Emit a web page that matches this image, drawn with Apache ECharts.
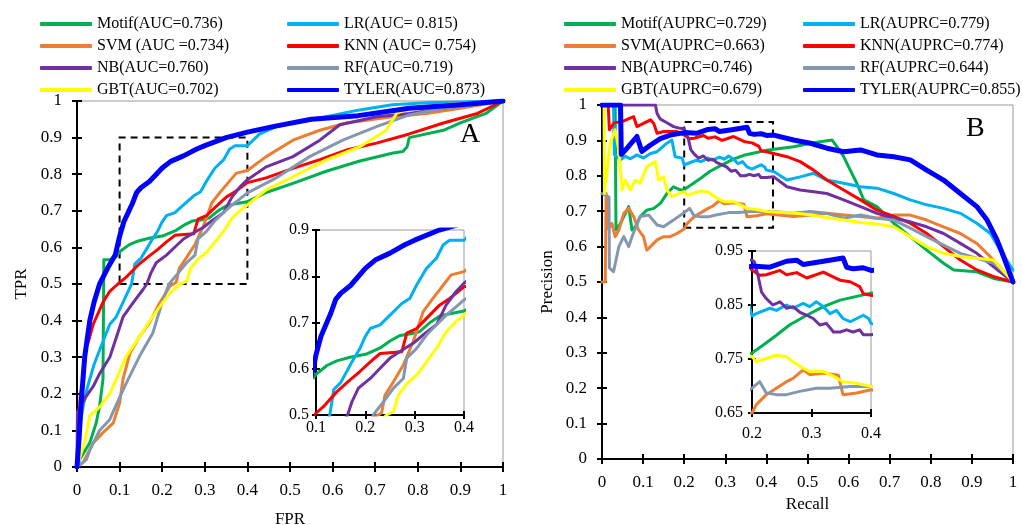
<!DOCTYPE html>
<html><head><meta charset="utf-8">
<script src="https://cdn.jsdelivr.net/npm/echarts@6/dist/echarts.min.js"></script>
<style>html,body{margin:0;padding:0;background:#fff}#c{width:1022px;height:525px}</style>
</head><body><div id="c"></div>
<script>
// ---------- DATA ----------
const rocNames = ['Motif(AUC=0.736)','LR(AUC= 0.815)','SVM (AUC =0.734)','KNN (AUC= 0.754)','NB(AUC=0.760)','RF(AUC=0.719)','GBT(AUC=0.702)','TYLER(AUC=0.873)'];
const prNames  = ['Motif(AUPRC=0.729)','LR(AUPRC=0.779)','SVM(AUPRC=0.663)','KNN(AUPRC=0.774)','NB(AUPRC=0.746)','RF(AUPRC=0.644)','GBT(AUPRC=0.679)','TYLER(AUPRC=0.855)'];
const axisTicks01 = [0,0.1,0.2,0.3,0.4,0.5,0.6,0.7,0.8,0.9,1];
const zoomBoxA = [0.1,0.4,0.5,0.9];   // FPR from,to ; TPR from,to
const zoomBoxB = [0.2,0.416,0.653,0.952];
const insetA = {x:[0.1,0.4], y:[0.5,0.9]};
const insetB = {x:[0.2,0.4], y:[0.65,0.95]};

const rocMotif = [[0,0],[0.006,0.02],[0.03,0.066],[0.045,0.12],[0.053,0.166],[0.061,0.24],[0.062,0.40],[0.063,0.566],[0.077,0.566],[0.092,0.575],[0.1,0.588],[0.122,0.607],[0.142,0.617],[0.169,0.625],[0.203,0.632],[0.23,0.645],[0.25,0.66],[0.27,0.672],[0.29,0.675],[0.31,0.68],[0.331,0.70],[0.351,0.714],[0.371,0.719],[0.4,0.725],[0.444,0.75],[0.507,0.775],[0.585,0.808],[0.664,0.836],[0.742,0.858],[0.765,0.862],[0.775,0.875],[0.78,0.9],[0.86,0.92],[0.9,0.94],[0.96,0.966],[1,1]];
const rocLR = [[0,0],[0.005,0.1],[0.015,0.17],[0.025,0.22],[0.04,0.28],[0.06,0.34],[0.077,0.39],[0.092,0.41],[0.108,0.45],[0.12,0.48],[0.128,0.5],[0.136,0.555],[0.15,0.57],[0.173,0.615],[0.189,0.644],[0.2,0.67],[0.21,0.687],[0.23,0.695],[0.25,0.716],[0.274,0.741],[0.29,0.752],[0.304,0.781],[0.324,0.817],[0.344,0.839],[0.358,0.868],[0.371,0.878],[0.4,0.878],[0.429,0.91],[0.468,0.93],[0.507,0.94],[0.585,0.957],[0.66,0.975],[0.74,0.99],[0.82,0.995],[1,1]];
const rocSVM = [[0,0],[0.014,0.012],[0.038,0.066],[0.061,0.094],[0.085,0.12],[0.1,0.175],[0.108,0.24],[0.124,0.31],[0.147,0.357],[0.17,0.394],[0.194,0.448],[0.218,0.494],[0.233,0.505],[0.24,0.543],[0.257,0.572],[0.277,0.608],[0.297,0.659],[0.317,0.723],[0.337,0.752],[0.358,0.781],[0.374,0.803],[0.4,0.81],[0.444,0.848],[0.507,0.893],[0.57,0.92],[0.632,0.94],[0.74,0.957],[0.82,0.966],[0.9,0.98],[1,1]];
const rocKNN = [[0,0],[0.004,0.1],[0.008,0.2],[0.015,0.23],[0.02,0.33],[0.026,0.34],[0.038,0.39],[0.061,0.45],[0.077,0.48],[0.096,0.5],[0.115,0.518],[0.142,0.55],[0.169,0.576],[0.189,0.594],[0.21,0.615],[0.23,0.633],[0.274,0.637],[0.284,0.677],[0.304,0.687],[0.324,0.709],[0.351,0.738],[0.371,0.752],[0.4,0.777],[0.444,0.79],[0.507,0.816],[0.57,0.84],[0.632,0.866],[0.703,0.885],[0.78,0.91],[0.86,0.94],[0.94,0.966],[1,1]];
const rocNB = [[0,0],[0.001,0.15],[0.02,0.19],[0.038,0.22],[0.054,0.257],[0.077,0.30],[0.094,0.36],[0.108,0.41],[0.131,0.448],[0.155,0.485],[0.164,0.5],[0.173,0.529],[0.186,0.558],[0.21,0.579],[0.23,0.601],[0.25,0.623],[0.274,0.64],[0.297,0.655],[0.317,0.673],[0.344,0.695],[0.364,0.738],[0.384,0.767],[0.4,0.785],[0.444,0.82],[0.507,0.848],[0.57,0.893],[0.617,0.935],[0.703,0.957],[0.78,0.966],[0.86,0.98],[1,1]];
const rocRF = [[0,0],[0.022,0.02],[0.03,0.046],[0.053,0.1],[0.077,0.13],[0.1,0.19],[0.116,0.23],[0.147,0.303],[0.178,0.366],[0.2,0.45],[0.216,0.5],[0.237,0.529],[0.257,0.558],[0.277,0.579],[0.284,0.623],[0.304,0.644],[0.324,0.673],[0.344,0.695],[0.364,0.716],[0.384,0.734],[0.4,0.749],[0.468,0.79],[0.546,0.848],[0.624,0.893],[0.703,0.93],[0.78,0.962],[0.86,0.98],[1,1]];
const rocGBT = [[0,0],[0.019,0.074],[0.03,0.14],[0.054,0.165],[0.077,0.2],[0.092,0.24],[0.116,0.303],[0.147,0.357],[0.178,0.412],[0.218,0.475],[0.243,0.5],[0.257,0.507],[0.267,0.543],[0.284,0.568],[0.304,0.586],[0.324,0.615],[0.344,0.644],[0.364,0.68],[0.384,0.702],[0.4,0.716],[0.444,0.757],[0.507,0.793],[0.585,0.839],[0.664,0.875],[0.726,0.92],[0.75,0.966],[0.78,0.98],[0.86,0.99],[1,1]];
const rocTYLER = [[0,0],[0.005,0.08],[0.01,0.18],[0.018,0.3],[0.03,0.4],[0.04,0.45],[0.053,0.5],[0.075,0.55],[0.09,0.58],[0.1,0.63],[0.11,0.67],[0.12,0.695],[0.13,0.72],[0.14,0.75],[0.15,0.763],[0.17,0.78],[0.2,0.817],[0.22,0.835],[0.25,0.85],[0.28,0.868],[0.3,0.878],[0.35,0.9],[0.4,0.915],[0.46,0.93],[0.55,0.95],[0.66,0.96],[0.78,0.98],[0.9,0.99],[1,1]];

const prMotif = [[0,1],[0.032,1],[0.034,0.647],[0.045,0.666],[0.057,0.694],[0.065,0.713],[0.073,0.647],[0.081,0.656],[0.093,0.685],[0.109,0.703],[0.126,0.708],[0.142,0.722],[0.158,0.75],[0.174,0.769],[0.19,0.76],[0.2,0.761],[0.219,0.776],[0.241,0.794],[0.263,0.813],[0.292,0.831],[0.32,0.847],[0.348,0.859],[0.376,0.866],[0.4,0.872],[0.466,0.882],[0.507,0.892],[0.56,0.901],[0.572,0.882],[0.588,0.854],[0.604,0.816],[0.62,0.779],[0.637,0.732],[0.669,0.713],[0.71,0.666],[0.75,0.628],[0.79,0.59],[0.831,0.553],[0.856,0.534],[0.912,0.529],[0.953,0.51],[1,0.5]];
const prLR = [[0,1],[0.028,1],[0.03,0.86],[0.045,0.845],[0.057,0.855],[0.069,0.848],[0.085,0.859],[0.101,0.85],[0.118,0.863],[0.134,0.868],[0.158,0.892],[0.17,0.901],[0.178,0.854],[0.195,0.85],[0.2,0.83],[0.207,0.834],[0.23,0.844],[0.241,0.84],[0.258,0.85],[0.269,0.844],[0.286,0.853],[0.297,0.847],[0.308,0.856],[0.32,0.847],[0.331,0.834],[0.342,0.84],[0.353,0.825],[0.365,0.819],[0.376,0.825],[0.387,0.831],[0.396,0.825],[0.4,0.816],[0.418,0.812],[0.45,0.788],[0.482,0.797],[0.515,0.807],[0.547,0.788],[0.588,0.779],[0.629,0.769],[0.669,0.765],[0.71,0.75],[0.75,0.732],[0.79,0.718],[0.831,0.708],[0.872,0.694],[0.912,0.666],[0.945,0.637],[0.969,0.59],[1,0.534]];
const prSVM = [[0,0.5],[0.008,0.5],[0.01,0.75],[0.016,0.65],[0.024,0.666],[0.032,0.628],[0.041,0.647],[0.053,0.694],[0.065,0.708],[0.077,0.685],[0.089,0.647],[0.101,0.628],[0.109,0.59],[0.118,0.6],[0.134,0.619],[0.15,0.628],[0.166,0.628],[0.182,0.637],[0.2,0.65],[0.207,0.665],[0.224,0.684],[0.241,0.696],[0.258,0.708],[0.269,0.714],[0.286,0.73],[0.297,0.721],[0.32,0.724],[0.345,0.72],[0.353,0.684],[0.376,0.687],[0.4,0.693],[0.466,0.685],[0.507,0.689],[0.547,0.694],[0.588,0.689],[0.629,0.685],[0.669,0.68],[0.71,0.689],[0.75,0.689],[0.79,0.675],[0.831,0.656],[0.872,0.637],[0.912,0.609],[0.953,0.562],[1,0.5]];
const prKNN = [[0,1],[0.015,1],[0.018,0.93],[0.03,0.95],[0.049,0.953],[0.077,0.967],[0.085,0.939],[0.118,0.958],[0.126,0.948],[0.134,0.92],[0.15,0.925],[0.182,0.925],[0.2,0.915],[0.213,0.905],[0.224,0.906],[0.247,0.914],[0.258,0.906],[0.275,0.91],[0.292,0.9],[0.32,0.911],[0.331,0.905],[0.348,0.896],[0.365,0.893],[0.381,0.884],[0.387,0.871],[0.4,0.868],[0.45,0.854],[0.482,0.84],[0.515,0.816],[0.547,0.788],[0.588,0.76],[0.629,0.732],[0.669,0.703],[0.71,0.685],[0.75,0.666],[0.79,0.637],[0.831,0.6],[0.872,0.562],[0.912,0.534],[0.953,0.515],[1,0.5]];
const prNB = [[0,1],[0.13,1],[0.134,0.976],[0.142,0.96],[0.158,0.95],[0.174,0.939],[0.19,0.934],[0.2,0.933],[0.204,0.93],[0.21,0.905],[0.216,0.874],[0.224,0.862],[0.235,0.85],[0.247,0.856],[0.258,0.844],[0.269,0.847],[0.28,0.837],[0.292,0.831],[0.303,0.825],[0.314,0.813],[0.325,0.816],[0.337,0.8],[0.348,0.8],[0.359,0.804],[0.37,0.8],[0.381,0.804],[0.387,0.795],[0.4,0.795],[0.418,0.797],[0.45,0.769],[0.482,0.76],[0.515,0.755],[0.547,0.75],[0.588,0.732],[0.629,0.713],[0.669,0.694],[0.71,0.68],[0.75,0.67],[0.79,0.656],[0.831,0.637],[0.872,0.609],[0.912,0.581],[0.953,0.543],[1,0.5]];
const prRF = [[0,0.75],[0.017,0.74],[0.018,0.54],[0.028,0.529],[0.041,0.6],[0.053,0.628],[0.065,0.6],[0.073,0.628],[0.093,0.685],[0.114,0.689],[0.134,0.661],[0.15,0.656],[0.174,0.675],[0.2,0.696],[0.213,0.708],[0.224,0.687],[0.241,0.684],[0.258,0.684],[0.28,0.69],[0.308,0.696],[0.331,0.696],[0.365,0.699],[0.381,0.699],[0.418,0.699],[0.466,0.694],[0.507,0.699],[0.547,0.694],[0.588,0.68],[0.629,0.689],[0.669,0.68],[0.71,0.675],[0.75,0.652],[0.79,0.628],[0.831,0.604],[0.872,0.581],[0.912,0.567],[0.953,0.553],[1,0.505]];
const prGBT = [[0,1],[0.005,1],[0.006,0.75],[0.02,0.892],[0.032,0.93],[0.041,0.873],[0.049,0.76],[0.057,0.788],[0.069,0.76],[0.081,0.788],[0.093,0.779],[0.109,0.826],[0.13,0.84],[0.138,0.788],[0.15,0.797],[0.158,0.76],[0.17,0.741],[0.186,0.75],[0.2,0.755],[0.207,0.745],[0.224,0.751],[0.241,0.757],[0.258,0.754],[0.269,0.745],[0.286,0.733],[0.297,0.727],[0.32,0.727],[0.337,0.718],[0.353,0.708],[0.376,0.705],[0.4,0.699],[0.466,0.695],[0.507,0.69],[0.547,0.682],[0.588,0.675],[0.629,0.668],[0.669,0.664],[0.71,0.656],[0.75,0.628],[0.79,0.6],[0.831,0.581],[0.872,0.572],[0.912,0.567],[0.953,0.562],[1,0.5]];
const prTYLER = [[0,1],[0.045,1],[0.047,0.86],[0.061,0.878],[0.085,0.911],[0.097,0.869],[0.118,0.887],[0.142,0.905],[0.166,0.915],[0.2,0.922],[0.23,0.92],[0.258,0.931],[0.275,0.933],[0.286,0.925],[0.32,0.931],[0.353,0.937],[0.359,0.92],[0.37,0.917],[0.387,0.919],[0.4,0.914],[0.418,0.915],[0.466,0.901],[0.507,0.892],[0.547,0.878],[0.588,0.868],[0.629,0.873],[0.669,0.859],[0.71,0.854],[0.75,0.845],[0.79,0.816],[0.831,0.788],[0.872,0.75],[0.912,0.713],[0.937,0.675],[0.961,0.619],[0.977,0.572],[1,0.5]];

const rocData = [rocMotif,rocLR,rocSVM,rocKNN,rocNB,rocRF,rocGBT,rocTYLER];
const prData  = [prMotif,prLR,prSVM,prKNN,prNB,prRF,prGBT,prTYLER];

// ---------- STYLE ----------
const colors = ['#00B050','#00B0F0','#ED7D31','#FF0000','#7030A0','#8497B0','#FFFF00','#0000FF'];
const widths = [3,3,3,3,3,3,3,5];
const FONT = 'Liberation Serif';

const grids = [
  {left:77, top:101, width:426, height:366},
  {left:316, top:230, width:148, height:185},
  {left:602, top:105, width:411, height:354},
  {left:752, top:251, width:119, height:162}
];
grids.forEach(g=>{g.show=true;g.borderColor='#999';g.borderWidth=1;g.backgroundColor='transparent';g.containLabel=false;g.outerBoundsMode='none';});

const ranges = [
  {x:[axisTicks01[0],axisTicks01[10]], y:[axisTicks01[0],axisTicks01[10]], fs:17, lm:15, tl:5},
  {x:insetA.x, y:insetA.y, fs:16, lm:7, tl:4},
  {x:[axisTicks01[0],axisTicks01[10]], y:[axisTicks01[0],axisTicks01[10]], fs:17, lm:15, tl:5},
  {x:insetB.x, y:insetB.y, fs:16, lm:9, tl:4}
];
const names = [
  {x:'FPR', y:'TPR', xg:44, yg:47},
  null,
  {x:'Recall', y:'Precision', xg:30, yg:46},
  null
];
const xAxes=[], yAxes=[];
ranges.forEach((r,i)=>{
  const common = {type:'value', gridIndex:i, interval:0.1, splitLine:{show:false}};
  const nm = names[i];
  xAxes.push(Object.assign({}, common, {min:r.x[0], max:r.x[1], position:'bottom',
    axisLine:{show:true, onZero:false, lineStyle:{color:'#000', width:2}},
    axisTick:{show:true, length:r.tl, lineStyle:{color:'#000', width:2}},
    axisLabel:{color:'#000', fontFamily:FONT, fontSize:r.fs, margin: i===1?5:(i===3?13:15)},
    name: nm?nm.x:'', nameLocation:'middle', nameGap: nm?nm.xg:0,
    nameTextStyle:{color:'#000', fontFamily:FONT, fontSize:17}}));
  xAxes.push(Object.assign({}, common, {min:r.x[0], max:r.x[1], position:'bottom',
    axisLine:{show:false}, axisTick:{show:true, inside:true, length:r.tl, lineStyle:{color:'#000', width:2}},
    axisLabel:{show:false}}));
  yAxes.push(Object.assign({}, common, {min:r.y[0], max:r.y[1], position:'left',
    axisLine:{show:true, onZero:false, lineStyle:{color:'#000', width:2}},
    axisTick:{show:true, length:r.tl, lineStyle:{color:'#000', width:2}},
    axisLabel:{color:'#000', fontFamily:FONT, fontSize:r.fs, margin:r.lm},
    name: nm?nm.y:'', nameLocation:'middle', nameGap: nm?nm.yg:0,
    nameTextStyle:{color:'#000', fontFamily:FONT, fontSize:17}}));
  yAxes.push(Object.assign({}, common, {min:r.y[0], max:r.y[1], position:'left',
    axisLine:{show:false}, axisTick:{show:true, inside:true, length:r.tl, lineStyle:{color:'#000', width:2}},
    axisLabel:{show:false}}));
});

const series=[];
function addSet(nameList, dataList, gridIdx){
  nameList.forEach((n,k)=>{
    series.push({type:'line', name:n, xAxisIndex:gridIdx*2, yAxisIndex:gridIdx*2,
      data:dataList[k], showSymbol:false, symbol:'none', clip:true, z:2+k,
      color:colors[k], itemStyle:{color:colors[k]},
      lineStyle:{color:colors[k], width:widths[k], cap:'round', join:'round'}});
  });
}
addSet(rocNames, rocData, 0);
addSet(rocNames, rocData, 1);
addSet(prNames, prData, 2);
addSet(prNames, prData, 3);

function box(b){
  return {silent:true, label:{show:false},
    itemStyle:{color:'rgba(0,0,0,0)', borderColor:'#000', borderWidth:2, borderType:[7,5]},
    data:[[{coord:[b[0],b[2]]},{coord:[b[1],b[3]]}]]};
}
series[0].markArea = box(zoomBoxA);
series[16].markArea = box(zoomBoxB);

function legend(left, data){
  return {orient:'vertical', left:left-5, top:11, itemWidth:52, itemHeight:4, icon:'roundRect',
    itemGap:6, selectedMode:false, padding:5,
    textStyle:{color:'#000', fontFamily:FONT, fontSize:16, lineHeight:16, padding:[0,0,0,0]},
    data:data};
}
const option = {
  animation:false,
  backgroundColor:'#fff',
  title:[
    {text:'A', left:460, top:121, padding:0, textStyle:{fontFamily:FONT, fontSize:28, fontWeight:'normal', color:'#000'}},
    {text:'B', left:966, top:115, padding:0, textStyle:{fontFamily:FONT, fontSize:28, fontWeight:'normal', color:'#000'}}
  ],
  legend:[
    legend(40, [rocNames[0],rocNames[2],rocNames[4],rocNames[6]]),
    legend(287, [rocNames[1],rocNames[3],rocNames[5],rocNames[7]]),
    legend(564, [prNames[0],prNames[2],prNames[4],prNames[6]]),
    legend(803, [prNames[1],prNames[3],prNames[5],prNames[7]])
  ],
  grid:grids, xAxis:xAxes, yAxis:yAxes, series:series
};
const chart = echarts.init(document.getElementById('c'), null, {renderer:'canvas'});
chart.setOption(option);
</script></body></html>
